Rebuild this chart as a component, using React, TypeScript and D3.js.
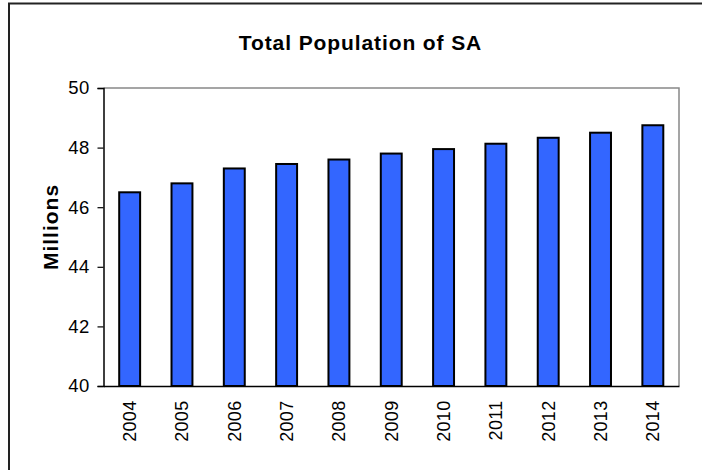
import React, { useEffect, useRef } from "react";
import * as d3 from "d3";

const years: string[] = ["2004", "2005", "2006", "2007", "2008", "2009", "2010", "2011", "2012", "2013", "2014"];
const population: number[] = [46.5, 46.8, 47.3, 47.45, 47.6, 47.8, 47.95, 48.13, 48.33, 48.5, 48.75];
const yTicks: number[] = [40, 42, 44, 46, 48, 50];
const title = "Total Population of SA";
const yTitle = "Millions";

const W = 702;
const H = 470;
const plot = { left: 103.5, right: 679, top: 88, bottom: 386 };

export default function App() {
  const ref = useRef<SVGSVGElement>(null);

  useEffect(() => {
    const svg = d3.select(ref.current);
    svg.selectAll("*").remove();

    const font = "Arial, 'Liberation Sans', Helvetica, sans-serif";

    // outer frame
    svg.append("rect")
      .attr("x", 9).attr("y", 3.5)
      .attr("width", W + 20).attr("height", H + 20)
      .attr("fill", "white").attr("stroke", "#222").attr("stroke-width", 2);

    const x = d3.scaleBand<string>().domain(years).range([plot.left, plot.right]).paddingInner(0.6).paddingOuter(0.3);
    const y = d3.scaleLinear().domain([40, 50]).range([plot.bottom, plot.top]);

    // plot border (top/right gray)
    svg.append("path")
      .attr("d", `M${plot.left},${plot.top}H${plot.right}V${plot.bottom}`)
      .attr("fill", "none").attr("stroke", "#888").attr("stroke-width", 1.5);

    // bars
    svg.append("g").selectAll("rect").data(years).join("rect")
      .attr("x", (d) => x(d)!)
      .attr("width", x.bandwidth())
      .attr("y", (_d, i) => y(population[i]))
      .attr("height", (_d, i) => y(40) - y(population[i]))
      .attr("fill", "#3366FF")
      .attr("stroke", "#000")
      .attr("stroke-width", 2);

    // y axis
    const yAxis = svg.append("g").attr("transform", `translate(${plot.left},0)`)
      .call(d3.axisLeft(y).tickValues(yTicks).tickSize(6).tickPadding(8).tickFormat(d3.format("d")));
    yAxis.select(".domain").attr("stroke", "#000").attr("stroke-width", 1.5);
    yAxis.selectAll(".tick line").attr("stroke", "#000").attr("stroke-width", 1.2);
    yAxis.selectAll("text")
      .attr("font-family", font).attr("font-size", 18.5).attr("fill", "#000")
      .style("letter-spacing", "0.3px");

    // x axis
    const xAxis = svg.append("g").attr("transform", `translate(0,${plot.bottom})`)
      .call(d3.axisBottom(x).tickSize(0).tickPadding(0));
    xAxis.select(".domain").attr("stroke", "#000").attr("stroke-width", 1.5);
    xAxis.selectAll("text")
      .attr("font-family", font).attr("font-size", 18).attr("fill", "#000")
      .style("letter-spacing", "0.3px")
      .attr("transform", "rotate(-90)")
      .attr("text-anchor", "end")
      .attr("x", -14.5)
      .attr("y", 0)
      .attr("dy", "0.35em");

    // title
    svg.append("text")
      .attr("x", 360.5).attr("y", 50)
      .attr("text-anchor", "middle")
      .attr("font-family", font).attr("font-size", 21).attr("font-weight", "bold")
      .style("letter-spacing", "0.9px")
      .text(title);

    // y title
    svg.append("text")
      .attr("transform", `translate(58,227) rotate(-90)`)
      .attr("text-anchor", "middle")
      .attr("font-family", font).attr("font-size", 21).attr("font-weight", "bold")
      .style("letter-spacing", "1px")
      .text(yTitle);
  }, []);

  return (
    <svg
      ref={ref}
      width={W}
      height={H}
      style={{ position: "absolute", left: 0, top: 0, background: "white" }}
    />
  );
}
